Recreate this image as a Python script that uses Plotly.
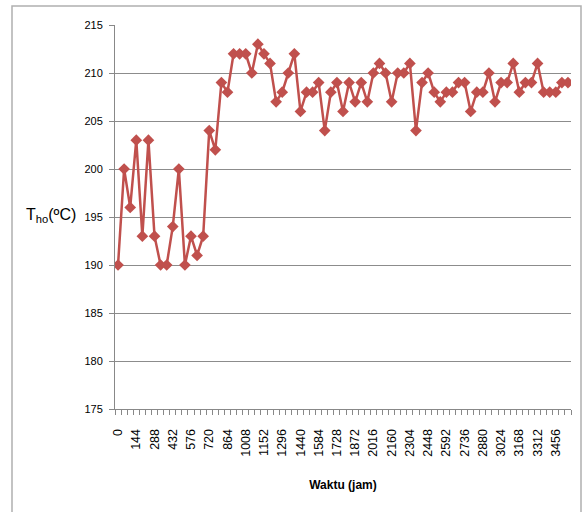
import plotly.graph_objects as go

hours = [48 * i for i in range(75)]
temps = [190, 200, 196, 203, 193, 203, 193, 190, 190, 194,
         200, 190, 193, 191, 193, 204, 202, 209, 208, 212,
         212, 212, 210, 213, 212, 211, 207, 208, 210, 212,
         206, 208, 208, 209, 204, 208, 209, 206, 209, 207,
         209, 207, 210, 211, 210, 207, 210, 210, 211, 204,
         209, 210, 208, 207, 208, 208, 209, 209, 206, 208,
         208, 210, 207, 209, 209, 211, 208, 209, 209, 211,
         208, 208, 208, 209, 209]
tick_hours = hours[:73:3]
tick_labels = [str(h) for h in tick_hours]

FONT = "Liberation Sans, Arial, sans-serif"
RED = "#C0504D"

W, H = 584, 512
L, R, T, B = 115, 571, 25, 409
step = hours[1] - hours[0]
x_range = [hours[0] - step / 2, hours[-1] + step / 2]

fig = go.Figure()
# helper (empty) trace so the boundary-tick axis is rendered
fig.add_trace(go.Scatter(
    x=[None], y=[None], xaxis="x2", yaxis="y",
    mode="lines", showlegend=False, hoverinfo="skip",
))
fig.add_trace(go.Scatter(
    x=hours, y=temps, mode="lines+markers",
    line=dict(color=RED, width=2.5),
    marker=dict(symbol="diamond", size=9, color=RED),
    showlegend=False,
))

fig.update_layout(
    width=W, height=H,
    margin=dict(l=L, r=W - R, t=T, b=H - B, pad=0, autoexpand=False),
    plot_bgcolor="white", paper_bgcolor="white",
    font=dict(family=FONT, size=11, color="#000000"),
    xaxis=dict(
        range=x_range,
        tickvals=tick_hours, ticktext=tick_labels, tickangle=-90,
        ticks="outside", ticklen=14, tickcolor="rgba(0,0,0,0)",
        showgrid=False, zeroline=False,
        showline=True, linecolor="#888888", linewidth=1,
        tickfont=dict(size=12.5, family=FONT),
        title=dict(text="<b>Waktu (jam)</b>", font=dict(size=12, family=FONT), standoff=24),
    ),
    xaxis2=dict(
        overlaying="x", anchor="y", side="bottom", range=x_range,
        tickmode="linear", tick0=x_range[0], dtick=step,
        ticks="outside", ticklen=5, tickcolor="#888888",
        showticklabels=False, showgrid=False, zeroline=False,
        showline=False,
    ),
    yaxis=dict(
        range=[175, 215], dtick=5, tick0=175,
        showgrid=True, gridcolor="#8c8c8c", gridwidth=1,
        zeroline=False, showline=True, linecolor="#888888", linewidth=1,
        ticks="outside", ticklen=5, tickcolor="#888888",
        tickfont=dict(size=11, family=FONT),
        ticklabelstandoff=4,
    ),
)

pw = R - L
ph = B - T
fig.add_annotation(
    text="T<sub>ho</sub>(ºC)", xref="paper", yref="paper",
    x=(51 - L) / pw, y=(B - 215) / ph, showarrow=False,
    font=dict(size=16, family=FONT), xanchor="center", yanchor="middle",
)
fig.add_shape(
    type="rect", xref="paper", yref="paper",
    x0=(12 - L) / pw, x1=(581 - L) / pw,
    y0=(B - 520) / ph, y1=(B - 6) / ph,
    line=dict(color="#b0b0b0", width=1.5), fillcolor="rgba(0,0,0,0)",
    layer="below",
)

fig.write_html(
    "out.html",
    config={"displayModeBar": False},
    post_script="document.body.style.margin='0';document.body.style.overflow='hidden';",
)
